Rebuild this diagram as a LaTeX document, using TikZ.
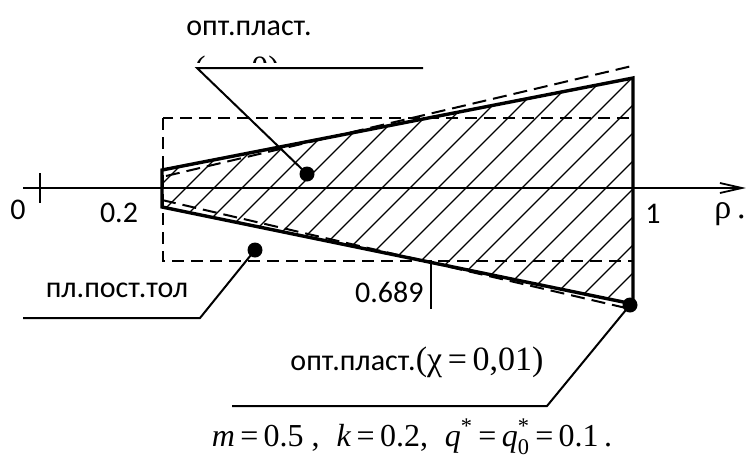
\documentclass[tikz,border=0pt]{standalone}
\usepackage{amsmath}
\usepackage{fontspec}
\setmainfont{Carlito}
\newfontfamily\timesfont{Liberation Serif}
\usetikzlibrary{arrows.meta}
\newcommand{\labelfont}{\fontsize{15}{17}\selectfont}
\newcommand{\mathtext}{\timesfont\fontsize{17}{19}\selectfont}

\begin{document}
\begin{tikzpicture}[
  x=0.5pt,
  y=-0.5pt,
  every node/.style={font=\labelfont, inner sep=0pt},
  axis/.style={line width=0.9pt, -{Straight Barb[length=11pt, width=5pt]}},
  tick/.style={line width=0.9pt},
  contour/.style={line width=1.7pt},
  optline/.style={line width=1pt, dash pattern=on 7pt off 3.5pt},
  plate/.style={line width=0.8pt, dash pattern=on 6pt off 3.5pt},
  hatch/.style={line width=0.6pt},
  leader/.style={line width=1pt},
  marker/.style={circle, fill, minimum size=7.5pt, inner sep=0pt}
]
  \useasboundingbox (0,0) rectangle (746,462);

  % ---- corners of the optimal section (chi = 0) ----------------------
  \coordinate (innerTop) at (162,170);
  \coordinate (outerTop) at (633,78);
  \coordinate (outerBot) at (633,304);
  \coordinate (innerBot) at (162,207);

  % ---- hatching inside the section ----------------------------------
  \begin{scope}
    \clip (innerTop) -- (outerTop) -- (outerBot) -- (innerBot) -- cycle;
    \foreach \c in {346,374,...,940}
      \draw[hatch] (\c-400,400) -- (\c,0);
  \end{scope}

  % ---- plate of constant thickness ----------------------------------
  \coordinate (plateA) at (163,118);
  \coordinate (plateB) at (633,261);
  \draw[plate] (plateA) rectangle (plateB);

  % ---- optimal plate for chi = 0,01 ---------------------------------
  \coordinate (optTopL) at (166,176);
  \coordinate (optTopR) at (632,66);
  \coordinate (optBotL) at (162,200);
  \coordinate (optBotR) at (626,308);
  \draw[optline] (optTopL) -- (optTopR);
  \draw[optline] (optBotL) -- (optBotR);

  % ---- contour of the section ---------------------------------------
  \draw[contour] (innerBot) -- (innerTop) -- (outerTop) -- (outerBot)
    -- cycle;

  % ---- rho axis, tick and labels ------------------------------------
  \coordinate (axisL) at (23,188);
  \coordinate (axisR) at (746,188);
  \draw[axis] (axisL) -- (axisR);
  \draw[tick] (40,173) -- (40,203);

  \node (labZero) at (18,210) {0};
  \node (labInner) at (119,213) {0.2};
  \node (labOuter) at (653,214) {1};
  \node (labRho) at (730,214) {\mathtext ρ\,.};

  % the point where the section touches the plate
  \coordinate (touchTop) at (431,260);
  \coordinate (touchBot) at (431,309);
  \draw[tick] (touchTop) -- (touchBot);
  \node[anchor=east] (labTouch) at (424,292) {0.689};

  % ---- markers and their leaders ------------------------------------
  \node[marker] (dotZero) at (307,174) {};
  \node[marker] (dotPlate) at (255,250) {};
  \node[marker] (dotOpt) at (630,305) {};

  % upper: chi = 0, the formula is cut by its line
  \coordinate (kneeZero) at (197,68);
  \coordinate (endZero) at (423,68);
  \draw[leader] (dotZero.center) -- (kneeZero) -- (endZero);
  \node (labZeroA) at (249,28) {опт.пласт.};
  \begin{scope}
    \clip (180,40) rectangle (300,62);
    \node (labZeroB) at (237,71) {\mathtext (χ\,=\,0)};
  \end{scope}

  % left: plate of constant thickness
  \coordinate (kneePlate) at (200,318);
  \coordinate (endPlate) at (23,318);
  \draw[leader] (dotPlate.center) -- (kneePlate) -- (endPlate);
  \node (labPlate) at (117,290) {пл.пост.тол};

  % lower: chi = 0,01
  \coordinate (kneeOpt) at (547,406);
  \coordinate (endOpt) at (232,406);
  \draw[leader] (dotOpt.center) -- (kneeOpt) -- (endOpt);
  \node (labOpt) at (417,362) {опт.пласт.{\mathtext(χ\,=\,0,01)}};

  % ---- parameters ---------------------------------------------------
  \node (labParams) at (412,437) {\timesfont\fontsize{16}{18}\selectfont
    \textit{m}\,=\,0.5 ,\; \textit{k}\,=\,0.2,\;
    $\textit{q}^{\text{*}}$\,=\,$\textit{q}^{\text{*}}_{\text{0}}$%
    \,=\,0.1\,.};
\end{tikzpicture}
\end{document}
